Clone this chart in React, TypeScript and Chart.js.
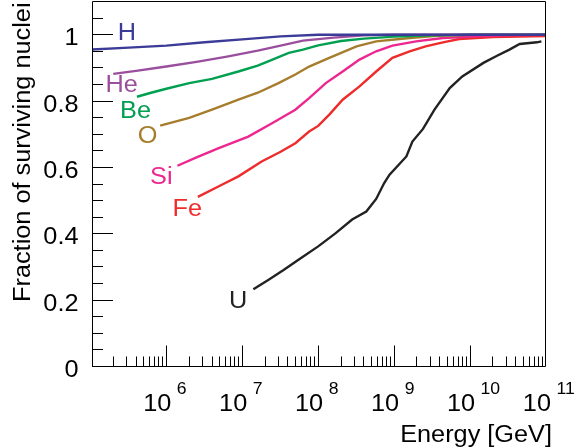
import { useEffect, useRef } from 'react';
import { Chart, registerables } from 'chart.js';

Chart.register(...registerables);

// ---------- data (energy in GeV, fraction of surviving nuclei) ----------
const energyH = [1e5, 3.2e5, 1e6, 3.2e6, 1e7, 3.2e7, 1e8, 1e9, 1e10, 1e11];
const fracH = [0.955, 0.961, 0.967, 0.977, 0.986, 0.995, 1.0, 1.0, 1.0, 1.0];

const energyHe = [2.0e5, 4.0e5, 1e6, 2.5e6, 6.3e6, 1.6e7, 3.2e7, 6.3e7, 1.6e8, 4.0e8, 1e9, 1e11];
const fracHe = [0.882, 0.891, 0.904, 0.918, 0.934, 0.952, 0.967, 0.982, 0.991, 0.998, 1.0, 1.0];

const energyBe = [4.1e5, 6.3e5, 1e6, 2.0e6, 4.0e6, 8.9e6, 1.6e7, 2.5e7, 4.1e7, 6.3e7, 1e8, 2.0e8, 4.0e8, 1e9, 3.2e9, 1e10, 1e11];
const fracBe = [0.813, 0.825, 0.837, 0.854, 0.867, 0.889, 0.907, 0.925, 0.945, 0.955, 0.968, 0.981, 0.988, 0.994, 0.998, 1.0, 1.0];

const energyO = [8.3e5, 2.0e6, 4.0e6, 8.9e6, 1.6e7, 3.0e7, 5.0e7, 7.6e7, 1.4e8, 3.2e8, 5.8e8, 1.6e9, 4.0e9, 1e10, 1e11];
const fracO = [0.726, 0.749, 0.774, 0.804, 0.825, 0.854, 0.88, 0.904, 0.93, 0.965, 0.98, 0.99, 0.997, 1.0, 1.0];

const energySi = [1.4e6, 2.5e6, 4.9e6, 1.2e7, 2.5e7, 5.0e7, 7.6e7, 1.26e8, 2.1e8, 3.5e8, 5.8e8, 9.5e8, 1.95e9, 4.4e9, 1.2e10, 3.2e10, 1e11];
const fracSi = [0.605, 0.63, 0.658, 0.693, 0.734, 0.774, 0.809, 0.854, 0.889, 0.925, 0.95, 0.967, 0.98, 0.99, 0.995, 0.998, 1.0];

const energyFe = [2.6e6, 5.0e6, 8.9e6, 1.8e7, 3.2e7, 5.0e7, 7.6e7, 1.0e8, 1.4e8, 2.1e8, 3.5e8, 5.8e8, 9.5e8, 1.6e9, 2.6e9, 4.4e9, 7.2e9, 2.0e10, 1e11];
const fracFe = [0.511, 0.544, 0.573, 0.618, 0.647, 0.673, 0.708, 0.725, 0.759, 0.804, 0.844, 0.889, 0.93, 0.95, 0.965, 0.977, 0.987, 0.993, 0.996];

const energyU = [1.4e7, 2.2e7, 3.5e7, 5.5e7, 1.0e8, 1.7e8, 2.8e8, 4.3e8, 5.8e8, 7.4e8, 8.7e8, 1.45e9, 1.74e9, 2.4e9, 3.4e9, 5.4e9, 7.9e9, 1.5e10, 2.2e10, 3.3e10, 4.5e10, 7.6e10, 8.7e10];
const fracU = [0.233, 0.261, 0.291, 0.322, 0.362, 0.402, 0.443, 0.467, 0.505, 0.553, 0.578, 0.633, 0.678, 0.716, 0.774, 0.839, 0.874, 0.915, 0.935, 0.955, 0.972, 0.977, 0.98];

const seriesNames = ['H', 'He', 'Be', 'O', 'Si', 'Fe', 'U'];
const seriesEnergies = [energyH, energyHe, energyBe, energyO, energySi, energyFe, energyU];
const seriesFractions = [fracH, fracHe, fracBe, fracO, fracSi, fracFe, fracU];
// label anchors in data units (energy, fraction)
const labelEnergies = [2.3e5, 1.58e5, 2.46e5, 4.2e5, 6.1e5, 1.21e6, 6.7e6];
const labelFractions = [0.9825, 0.8258, 0.7474, 0.675, 0.5515, 0.4521, 0.1778];

const xMajorTicks = [1e6, 1e7, 1e8, 1e9, 1e10, 1e11];
const xTickBase = ['10', '10', '10', '10', '10', '10'];
const xTickExponents = ['6', '7', '8', '9', '10', '11'];
const xMinorMantissas = [2, 3, 4, 5, 6, 7, 8, 9];
const xMinorDecades = [1e5, 1e6, 1e7, 1e8, 1e9, 1e10];
const yMajorTicks = [0, 0.2, 0.4, 0.6, 0.8, 1.0];
const yTickLabels = ['0', '0.2', '0.4', '0.6', '0.8', '1'];
const yMinorTicks = [0.05, 0.1, 0.15, 0.25, 0.3, 0.35, 0.45, 0.5, 0.55, 0.65, 0.7, 0.75, 0.85, 0.9, 0.95, 1.05];

const xTitle = 'Energy [GeV]';
const yTitle = 'Fraction of surviving nuclei';

// ---------- styles ----------
const colors = ['#3b3b98', '#9a4e9e', '#00a050', '#a67d2d', '#ec2890', '#ee2c2c', '#222222'];
const FONT = '"Liberation Sans", Arial, Helvetica, sans-serif';
const STRETCH = 1.1;

function drawText(
  ctx: CanvasRenderingContext2D,
  text: string,
  x: number,
  y: number,
  size: number,
  align: CanvasTextAlign,
  color: string,
  rotate = false
) {
  ctx.save();
  ctx.translate(x, y);
  if (rotate) ctx.rotate(-Math.PI / 2);
  ctx.scale(STRETCH, 1);
  ctx.font = `${size}px ${FONT}`;
  ctx.fillStyle = color;
  ctx.textAlign = align;
  ctx.textBaseline = 'alphabetic';
  ctx.fillText(text, 0, 0);
  ctx.restore();
}

const framePlugin = {
  id: 'rootFrame',
  afterDraw(chart: any) {
    const { ctx, chartArea, scales } = chart;
    const { left, right, top, bottom } = chartArea;
    const xs = scales.x;
    const ys = scales.y;
    ctx.save();
    ctx.strokeStyle = '#000';
    ctx.lineWidth = 1;
    // frame
    ctx.beginPath();
    ctx.rect(left + 0.5, top, right - left - 1, bottom - top);
    ctx.stroke();

    const snap = (p: number) => Math.floor(p) + 0.5;
    ctx.beginPath();
    // y ticks
    yMajorTicks.forEach((v) => {
      const p = snap(ys.getPixelForValue(v));
      ctx.moveTo(left, p);
      ctx.lineTo(left + 21, p);
    });
    yMinorTicks.forEach((v) => {
      const p = snap(ys.getPixelForValue(v));
      ctx.moveTo(left, p);
      ctx.lineTo(left + 11, p);
    });
    // x ticks
    xMajorTicks.forEach((v) => {
      const p = snap(xs.getPixelForValue(v));
      if (p >= right - 1) return;
      ctx.moveTo(p, bottom);
      ctx.lineTo(p, bottom - 21);
    });
    xMinorDecades.forEach((d) => {
      xMinorMantissas.forEach((m) => {
        const v = d * m;
        if (v < xs.min || v > xs.max) return;
        const p = snap(xs.getPixelForValue(v));
        ctx.moveTo(p, bottom);
        ctx.lineTo(p, bottom - 10);
      });
    });
    ctx.stroke();

    // y tick labels
    yMajorTicks.forEach((v, i) => {
      const p = ys.getPixelForValue(v);
      drawText(ctx, yTickLabels[i], left - 13.5, p + 10.5, 23, 'right', '#000');
    });
    // x tick labels: 10^n
    xMajorTicks.forEach((v, i) => {
      const p = xs.getPixelForValue(v);
      drawText(ctx, xTickBase[i], p + 5, 411, 23, 'right', '#000');
      drawText(ctx, xTickExponents[i], p + 10.5, 394, 16, 'left', '#000');
    });
    // axis titles
    drawText(ctx, xTitle, 552, 442, 23, 'right', '#000');
    drawText(ctx, yTitle, 30, 302, 23, 'left', '#000', true);

    // curve labels
    seriesNames.forEach((name, i) => {
      const px = xs.getPixelForValue(labelEnergies[i]);
      const py = ys.getPixelForValue(labelFractions[i]);
      drawText(ctx, name, px, py, 23, 'left', colors[i]);
    });
    ctx.restore();
  },
};

export default function App() {
  const canvasRef = useRef<HTMLCanvasElement | null>(null);

  useEffect(() => {
    if (!canvasRef.current) return;
    const datasets = seriesNames.map((name, i) => ({
      label: name,
      data: seriesEnergies[i].map((e, j) => ({ x: e, y: seriesFractions[i][j] })),
      borderColor: colors[i],
      backgroundColor: colors[i],
      borderWidth: 2.4,
      pointRadius: 0,
      tension: 0,
      fill: false,
    }));
    const chart = new Chart(canvasRef.current, {
      type: 'line',
      data: { datasets },
      options: {
        animation: false,
        responsive: false,
        maintainAspectRatio: false,
        layout: { padding: { left: 92, right: 38, top: 1.5, bottom: 81.5 } },
        plugins: { legend: { display: false }, tooltip: { enabled: false } },
        scales: {
          x: { type: 'logarithmic', min: 1.05e5, max: 1e11, display: false },
          y: { type: 'linear', min: 0, max: 1.1, display: false },
        },
      },
      plugins: [framePlugin],
    });
    return () => chart.destroy();
  }, []);

  return (
    <div style={{ position: 'fixed', left: 0, top: 0, width: 584, height: 448, background: '#fff' }}>
      <canvas ref={canvasRef} width={584} height={448} />
    </div>
  );
}
